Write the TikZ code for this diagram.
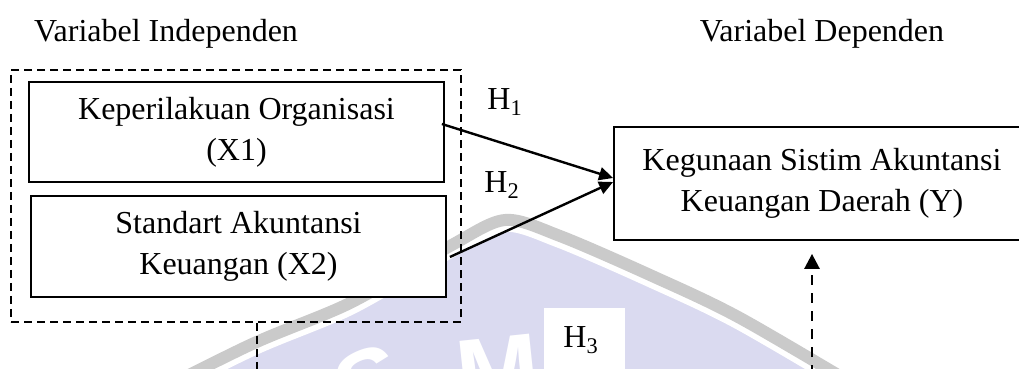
\documentclass[tikz,border=0pt]{standalone}
\usepackage{fontspec}
\setmainfont{Liberation Serif}
\newfontfamily\marksans{Liberation Sans}
\usetikzlibrary{arrows.meta,calc}
\definecolor{wmfill}{RGB}{218,218,240}
\definecolor{wmband}{RGB}{202,202,202}
\begin{document}
\begin{tikzpicture}[x=0.5pt,y=-0.5pt,
  txt/.style={font=\fontsize{16}{20.5}\selectfont},
  varbox/.style={txt, draw, line width=0.9pt, fill=white, align=center, inner sep=0pt},
  groupbox/.style={draw, line width=0.8pt, dash pattern=on 4pt off 2.5pt, inner sep=0pt},
  dashlink/.style={line width=0.8pt, dash pattern=on 4pt off 2.5pt},
  dasharrow/.style={line width=1.3pt, dash pattern=on 5pt off 4pt, -{Triangle[length=7.5pt,width=7.5pt]}},
  arr/.style={line width=1.2pt, -{Triangle[length=7pt,width=6.5pt]}},
  hyp/.style={txt, inner sep=0pt, anchor=base west},
  heading/.style={txt, inner sep=0pt, anchor=base},
  wmletter/.style={font=\marksans\bfseries\fontsize{50}{50}\selectfont, inner sep=0pt, text=white}]
\useasboundingbox (0,0) rectangle (1019,369);

% faint seal in the background
\fill[wmfill] plot[smooth] coordinates {(120,410) (250,345) (350,303) (450,246) (505,220) (560,236) (650,275) (740,318) (880,400)} -- (880,420) -- (120,420) -- cycle;
\draw[white, line width=9pt, yshift=-1.5pt] plot[smooth] coordinates {(120,410) (250,345) (350,303) (450,246) (505,220) (560,236) (650,275) (740,318) (880,400)};
\draw[wmband, line width=6pt] plot[smooth] coordinates {(120,410) (250,345) (350,303) (450,246) (505,220) (560,236) (650,275) (740,318) (880,400)};
\node[wmletter, rotate=24] (wms) at (371,384) {S};
\node[wmletter, rotate=6] (wmm) at (498,372) {M};

% headings
\node[heading] (hind) at (166,42) {Variabel Independen};
\node[heading] (hdep) at (822,42) {Variabel Dependen};

% independent variables
\node[groupbox, minimum width=225pt, minimum height=126pt] (grp) at (236,196) {};
\node[varbox, minimum width=207.5pt, minimum height=50pt] (x1) at (236.5,132) {Keperilakuan Organisasi\\(X1)};
\node[varbox, minimum width=207.5pt, minimum height=50.5pt] (x2) at (238.5,246.5) {Standart Akuntansi\\Keuangan (X2)};

% dependent variable
\node[varbox, minimum width=208pt, minimum height=56.5pt] (yv) at (822,183.5) {Kegunaan Sistim Akuntansi\\Keuangan Daerah (Y)};

% hypotheses
\draw[arr] ([xshift=-1.5pt,yshift=4pt]x1.east) -- ([yshift=2.75pt]yv.west);
\draw[arr] ([xshift=1.5pt,yshift=-5.25pt]x2.east) -- ([yshift=0.75pt]yv.west);
\node[hyp] (h1) at (487,110) {H\textsubscript{1}};
\node[hyp] (h2) at (484,193) {H\textsubscript{2}};

\coordinate (gtail) at (257,375);
\draw[dashlink] (grp.south -| gtail) -- (gtail);
\coordinate (ytail) at (812,375);
\draw[dasharrow, shorten >=6.5pt] (ytail) -- (ytail |- yv.south);

\node[fill=white, inner sep=0pt, minimum width=40.5pt, minimum height=35pt] (h3box) at (584.5,343) {};
\node[hyp] (h3) at (563,348) {H\textsubscript{3}};
\end{tikzpicture}
\end{document}
